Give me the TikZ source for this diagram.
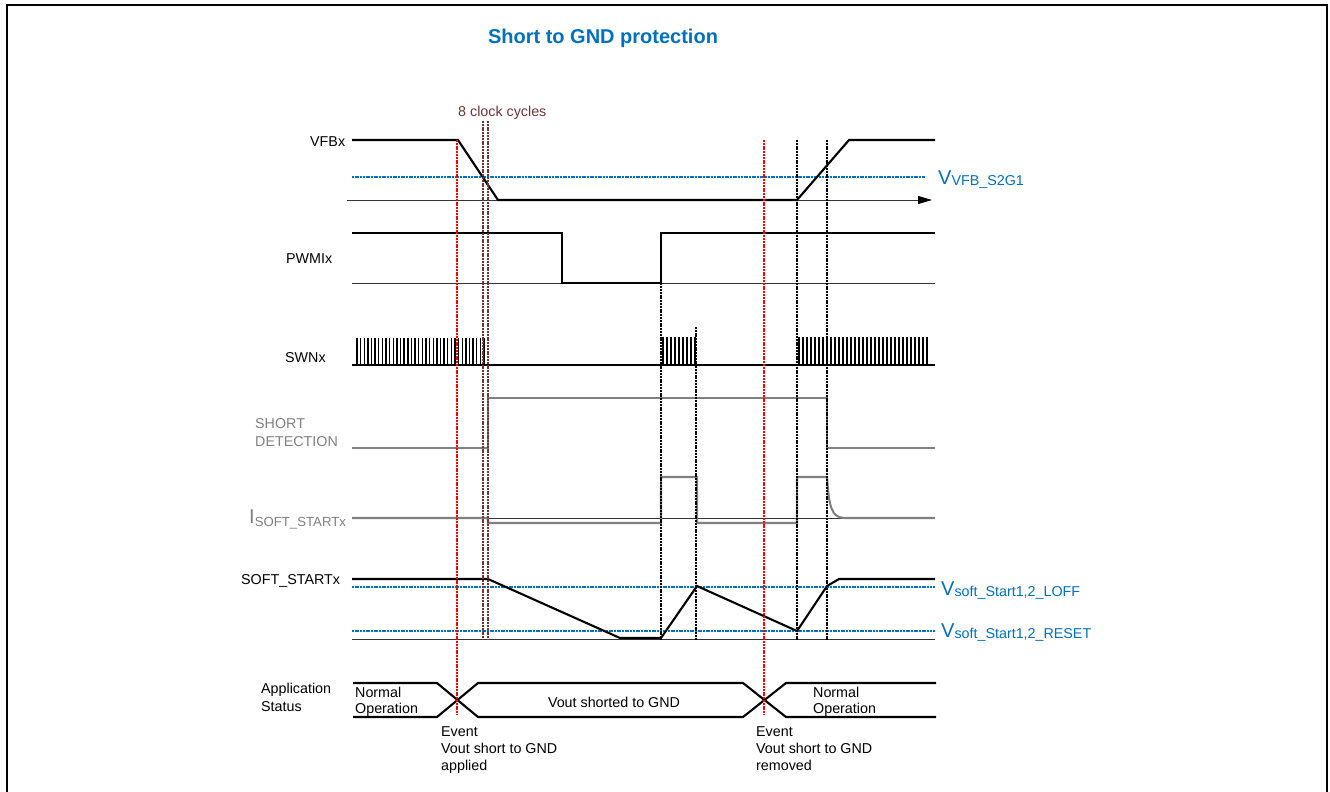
\documentclass[tikz,border=0pt]{standalone}
\usepackage{fontspec}
\setmainfont{Liberation Sans}
\usetikzlibrary{arrows.meta}
\definecolor{tblue}{RGB}{0,112,192}
\definecolor{tgray}{RGB}{128,128,128}
\definecolor{tbrown}{RGB}{112,52,52}
\begin{document}
\begin{tikzpicture}[x=1pt,y=-1pt,
  font=\fontsize{14.3}{17}\selectfont,
  lbl/.style={anchor=base west, inner sep=0pt},
  sig/.style={line width=2.1pt, black, line join=miter},
  gsig/.style={line width=2.1pt, tgray},
  thin/.style={line width=0.9pt, black!80},
  thr/.style={line width=1.7pt, tblue, dash pattern=on 2pt off 0.7pt},
  vred/.style={line width=1.5pt, red, dash pattern=on 2pt off 0.8pt},
  vblk/.style={line width=1.6pt, black, dash pattern=on 2pt off 0.8pt},
  vbrn/.style={line width=1.5pt, tbrown, dash pattern=on 2pt off 0.8pt},
  pulse/.style={line width=1.4pt, black}]
\useasboundingbox (0,0) rectangle (1330,792);
% frame
\draw[line width=1.3pt] (7,792) -- (7,5) -- (1327,5) -- (1327,792);

% title
\node[lbl, anchor=base, font=\fontsize{20}{24}\selectfont\bfseries, text=tblue] (title) at (603,44) {Short to GND protection};

% left labels
\node[lbl] (lvfb) at (310,146) {VFBx};
\node[lbl] (lpwm) at (286,263) {PWMIx};
\node[lbl] (lswn) at (285,362) {SWNx};
\node[lbl, text=tgray] (lsd1) at (255,428) {SHORT};
\node[lbl, text=tgray] (lsd2) at (255,446) {DETECTION};
\node[lbl, text=tgray] (lis) at (249,523) {{\fontsize{20}{24}\selectfont I}\raisebox{-3pt}{\fontsize{13.2}{16}\selectfont SOFT\_STARTx}};
\node[lbl] (lss) at (241,584) {SOFT\_STARTx};
\node[lbl] (las1) at (261,693) {Application};
\node[lbl] (las2) at (261,711) {Status};

% 8 clock cycles
\node[lbl, text=tbrown] (lclk) at (458,116) {8 clock cycles};

% thresholds
\draw[thr] (352,177) -- (925,177);
\draw[thr] (352,587) -- (935,587);
\draw[thr] (352,631) -- (935,631);
\node[lbl, text=tblue] (lth1) at (938,184) {{\fontsize{20}{24}\selectfont V}\raisebox{-1.5pt}{VFB\_S2G1}};
\node[lbl, text=tblue] (lth2) at (941,595) {{\fontsize{20}{24}\selectfont V}\raisebox{-1.5pt}{soft\_Start1,2\_LOFF}};
\node[lbl, text=tblue] (lth3) at (941,637) {{\fontsize{20}{24}\selectfont V}\raisebox{-1.5pt}{soft\_Start1,2\_RESET}};

% VFBx
\draw[thin, -{Triangle[length=14pt,width=8pt,color=black]}] (347,200) -- (932,200);
\draw[sig] (352,140) -- (458,140) -- (498,200) -- (797,200) -- (849,140) -- (935,140);

% PWMIx
\draw[thin] (352,283) -- (935,283);
\draw[sig] (352,233) -- (562,233) -- (562,283) -- (661,283) -- (661,233) -- (935,233);

% SWNx
\draw[sig] (352,365) -- (935,365);
\foreach \k in {0,...,35} \draw[pulse] ({357+3.63*\k},365) -- ({357+3.63*\k},338);
\foreach \k in {0,...,8} \draw[pulse] ({663+4*\k},365) -- ({663+4*\k},337);
\foreach \k in {0,...,32} \draw[pulse] ({799+4*\k},365) -- ({799+4*\k},337);

% SHORT DETECTION
\draw[gsig] (352,448) -- (488,448) -- (488,398) -- (827,398) -- (827,448) -- (935,448);

% I_SOFT_STARTx
\draw[thin] (488,518) -- (935,518);
\draw[gsig] (352,518) -- (488,518) -- (488,523) -- (661,523) -- (661,477) -- (697,477) -- (697,523) -- (797,523) -- (797,477) -- (827,477) .. controls (829,506) and (831,518) .. (845,518) -- (935,518);

% SOFT_STARTx
\draw[thin] (352,639) -- (935,639);
\draw[sig] (352,579) -- (488,579) -- (620,638) -- (661,638) -- (697,586) -- (797,631) -- (827,586) -- (839,579) -- (935,579);

% Application status
\draw[sig] (353,683) -- (437,683) -- (478,717) -- (743,717) -- (786,683) -- (936,683);
\draw[sig] (353,717) -- (437,717) -- (478,683) -- (743,683) -- (786,717) -- (936,717);
\node[lbl] (ln1) at (355,697) {Normal};
\node[lbl] (ln2) at (355,713) {Operation};
\node[lbl, anchor=base] (lvs) at (614,707) {Vout shorted to GND};
\node[lbl] (ln3) at (813,697) {Normal};
\node[lbl] (ln4) at (813,713) {Operation};

% events
\node[lbl] (le1) at (441,736) {Event};
\node[lbl] (le2) at (441,753) {Vout short to GND};
\node[lbl] (le3) at (441,770) {applied};
\node[lbl] (lr1) at (756,736) {Event};
\node[lbl] (lr2) at (756,753) {Vout short to GND};
\node[lbl] (lr3) at (756,770) {removed};

% vertical markers
\draw[vbrn] (483,121) -- (483,640);
\draw[vbrn] (488,121) -- (488,640);
\draw[vblk] (661,233) -- (661,640);
\draw[vblk] (696,327) -- (696,640);
\draw[vblk] (797,140) -- (797,640);
\draw[vblk] (827,140) -- (827,640);
\draw[vred] (457,140) -- (457,715);
\draw[vred] (764,140) -- (764,715);
\end{tikzpicture}
\end{document}
